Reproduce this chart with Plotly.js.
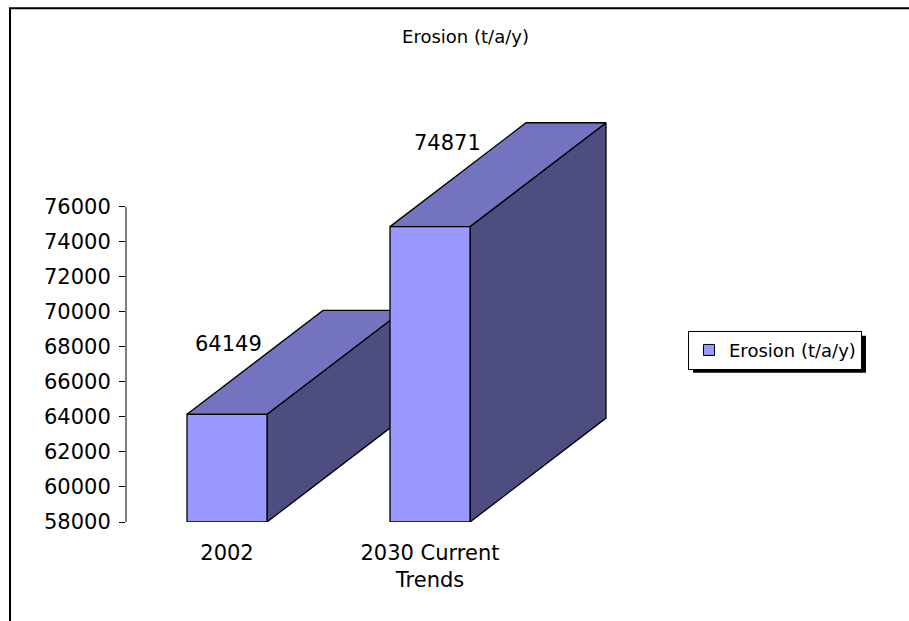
<!DOCTYPE html>
<html>
<head>
<meta charset="utf-8">
<script src="https://cdn.plot.ly/plotly-3.0.1.min.js"></script>
<style>html,body{margin:0;padding:0;background:#fff;}#chart{width:909px;height:621px;}</style>
</head>
<body>
<div id="chart"></div>
<script>
// ---- data ----
const categories = ["2002", "2030 Current Trends"];
const tickLabels = ["2002", "2030 Current<br>Trends"];
const values = [64149, 74871];
const seriesName = "Erosion (t/a/y)";
const chartTitle = "Erosion (t/a/y)";
const yTickValues = [58000, 60000, 62000, 64000, 66000, 68000, 70000, 72000, 74000, 76000];

// ---- style / geometry ----
const W = 909, H = 621;
const M = {l: 126, r: 276, t: 120, b: 98.5};
const plotW = W - M.l - M.r, plotH = H - M.t - M.b;
const pxPerUnitX = 203;           // pixels per category
const pxPer1000Y = 17.53;         // pixels per 1000 on value axis
const xMin = -101 / pxPerUnitX;
const xMax = xMin + plotW / pxPerUnitX;
const yMin = yTickValues[0];
const yMax = yMin + plotH / pxPer1000Y * 1000;
const halfW = 40 / pxPerUnitX;
const depthX = 136 / pxPerUnitX;
const depthY = 104 / pxPer1000Y * 1000;
const frontColor = "#9999FF", topColor = "#7373BF", sideColor = "#4D4D80";
const FONT = "DejaVu Sans";
const labelShift = [{x: 1, y: 70}, {x: 17, y: 84}];

const px2x = p => (p - M.l) / plotW;
const px2y = p => (H - M.b - p) / plotH;

function poly(xs, ys, color) {
  return {type: "scatter", mode: "lines", x: xs.concat([xs[0]]), y: ys.concat([ys[0]]),
    fill: "toself", fillcolor: color, line: {color: "#000", width: 1.3},
    hoverinfo: "skip", showlegend: false};
}

const traces = [];
values.forEach((v, i) => {
  const L = i - halfW, R = i + halfW, b = yMin;
  traces.push(poly([R, R, R + depthX, R + depthX], [b, v, v + depthY, b + depthY], sideColor));
  traces.push(poly([L, L + depthX, R + depthX, R], [v, v + depthY, v + depthY, v], topColor));
  traces.push(poly([L, L, R, R], [b, v, v, b], frontColor));
});
traces.push({type: "scatter", mode: "markers", x: [null], y: [null], name: seriesName,
  marker: {symbol: "square", size: 11, color: frontColor, line: {color: "#000", width: 1}},
  showlegend: true, hoverinfo: "skip"});

const annotations = values.map((v, i) => ({
  x: i, y: v, xref: "x", yref: "y", text: String(v), showarrow: false,
  xshift: labelShift[i].x, yshift: labelShift[i].y, yanchor: "middle", xanchor: "center",
  font: {family: FONT, size: 21, color: "#000"}
}));

const legLeft = 688, legTop = 331;
const shapes = [
  // outer frame
  {type: "rect", xref: "paper", yref: "paper", x0: px2x(10), x1: px2x(930), y0: px2y(8), y1: px2y(650),
   line: {color: "#000", width: 2}, fillcolor: "rgba(0,0,0,0)"},
  // value axis line
  {type: "line", xref: "paper", yref: "y", x0: 0, x1: 0, y0: yTickValues[0], y1: yTickValues[yTickValues.length - 1],
   line: {color: "#000", width: 1}},
  // legend shadow
  {type: "rect", xref: "paper", yref: "paper", x0: px2x(legLeft + 5), x1: px2x(legLeft + 178), y0: px2y(legTop + 5), y1: px2y(legTop + 42),
   line: {width: 0}, fillcolor: "#000"}
];

const layout = {
  width: W, height: H, margin: M,
  paper_bgcolor: "#fff", plot_bgcolor: "rgba(0,0,0,0)",
  font: {family: FONT, color: "#000"},
  title: {text: chartTitle, x: 465.5 / W, xanchor: "center", y: 1 - 37 / H, yanchor: "middle",
          font: {family: FONT, size: 18, color: "#000"}},
  xaxis: {range: [xMin, xMax], tickvals: categories.map((c, i) => i), ticktext: tickLabels,
          showgrid: false, zeroline: false, showline: false, ticks: "",
          tickfont: {family: FONT, size: 21, color: "#000"}, ticklabelstandoff: 16, fixedrange: true},
  yaxis: {range: [yMin, yMax], tickvals: yTickValues, ticktext: yTickValues.map(String),
          showgrid: false, zeroline: false, showline: false, ticks: "outside", ticklen: 6,
          tickcolor: "#000", tickwidth: 1,
          tickfont: {family: FONT, size: 21, color: "#000"}, ticklabelstandoff: 4, fixedrange: true},
  showlegend: true,
  legend: {x: px2x(legLeft), y: px2y(legTop), xanchor: "left", yanchor: "top",
           bgcolor: "#fff", bordercolor: "#000", borderwidth: 1,
           font: {family: FONT, size: 18, color: "#000"}, itemwidth: 30},
  annotations: annotations,
  shapes: shapes
};

Plotly.newPlot("chart", traces, layout, {staticPlot: true, displayModeBar: false});
</script>
</body>
</html>
